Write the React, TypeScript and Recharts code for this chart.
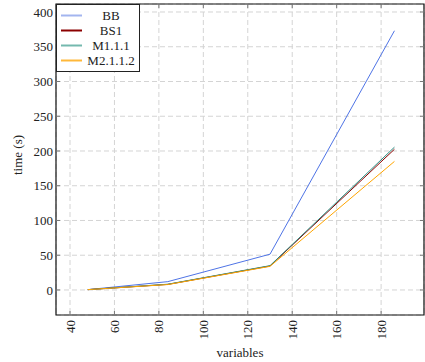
import React from 'react';
import { LineChart, Line, XAxis, YAxis, CartesianGrid, Legend, ReferenceArea, Label } from 'recharts';

const variables = [48, 84, 130, 186];
const bbTimes = [0.5, 12, 51.5, 373];
const bs1Times = [0.5, 8, 34.5, 202.5];
const m111Times = [0.5, 8.3, 35, 205.5];
const m2112Times = [0.5, 7.8, 34, 185];

const xTicks = [40, 60, 80, 100, 120, 140, 160, 180];
const yTicks = [0, 50, 100, 150, 200, 250, 300, 350, 400];

const X_DOMAIN: [number, number] = [33.7, 199.3];
const Y_DOMAIN: [number, number] = [-36, 411.5];

// plot box edges, used only for the little inward tick marks
const PLOT_LEFT = 56;
const PLOT_RIGHT = 424;
const PLOT_TOP = 4;
const PLOT_BOTTOM = 315;

const FONT = '"Liberation Serif", "DejaVu Serif", serif';

const series = [
  { key: 'bb', name: 'BB', color: '#4f74e6', legendColor: '#a3b5ef' },
  { key: 'bs1', name: 'BS1', color: '#8b0000', legendColor: '#8b0000' },
  { key: 'm111', name: 'M1.1.1', color: '#2a8c80', legendColor: '#74b9ae' },
  { key: 'm2112', name: 'M2.1.1.2', color: '#ffa500', legendColor: '#ffb83a' },
];

const data = variables.map((v, i) => ({
  variables: v,
  bb: bbTimes[i],
  bs1: bs1Times[i],
  m111: m111Times[i],
  m2112: m2112Times[i],
}));

const XTick: React.FC<any> = ({ x, payload }) => {
  const ty = PLOT_BOTTOM + 5;
  return (
    <g>
      <line x1={x} x2={x} y1={PLOT_BOTTOM} y2={PLOT_BOTTOM - 4} stroke="#777" />
      <line x1={x} x2={x} y1={PLOT_TOP} y2={PLOT_TOP + 4} stroke="#777" />
      <text
        x={x}
        y={ty}
        dy="0.35em"
        transform={`rotate(-90 ${x} ${ty})`}
        textAnchor="end"
        fontSize={13}
        fontFamily={FONT}
        fill="#222"
      >
        {payload.value}
      </text>
    </g>
  );
};

const YTick: React.FC<any> = ({ y, payload }) => (
  <g>
    <line x1={PLOT_LEFT} x2={PLOT_LEFT + 4} y1={y} y2={y} stroke="#777" />
    <line x1={PLOT_RIGHT - 4} x2={PLOT_RIGHT} y1={y} y2={y} stroke="#777" />
    <text x={PLOT_LEFT - 3} y={y} dy="0.35em" textAnchor="end" fontSize={13} fontFamily={FONT} fill="#222">
      {payload.value}
    </text>
  </g>
);

const LegendBox: React.FC<any> = () => (
  <div
    style={{
      boxSizing: 'border-box',
      width: 84,
      height: 68,
      border: '1px solid #222',
      background: '#fff',
      padding: '3px 0',
      fontFamily: FONT,
      fontSize: 13,
      color: '#222',
    }}
  >
    {series.map(s => (
      <div key={s.key} style={{ display: 'flex', alignItems: 'center', height: 15, lineHeight: '15px' }}>
        <svg width={26} height={15} style={{ flex: 'none' }}>
          <line x1={4} x2={25} y1={7.5} y2={7.5} stroke={s.legendColor} strokeWidth={2} />
        </svg>
        <span style={{ flex: 1, textAlign: 'center' }}>{s.name}</span>
      </div>
    ))}
  </div>
);

export default function App() {
  return (
    <div style={{ position: 'absolute', left: 0, top: 0, background: '#fff' }}>
      <LineChart width={425} height={362} data={data} margin={{ top: 4, right: 1, bottom: 0, left: 0 }}>
        <CartesianGrid stroke="#d4d4d4" strokeDasharray="5 3" />
        <XAxis
          dataKey="variables"
          type="number"
          domain={X_DOMAIN}
          ticks={xTicks}
          allowDataOverflow
          height={47}
          tickLine={false}
          axisLine={false}
          tick={<XTick />}
        >
          <Label
            content={() => (
              <text x={240} y={352} dy="0.35em" textAnchor="middle" fontSize={13} fontFamily={FONT} fill="#222">
                variables
              </text>
            )}
          />
        </XAxis>
        <YAxis
          type="number"
          domain={Y_DOMAIN}
          ticks={yTicks}
          allowDataOverflow
          width={56}
          tickLine={false}
          axisLine={false}
          tick={<YTick />}
        >
          <Label
            content={() => (
              <text
                x={17}
                y={155}
                dy="0.35em"
                transform="rotate(-90 17 155)"
                textAnchor="middle"
                fontSize={13}
                fontFamily={FONT}
                fill="#222"
              >
                time (s)
              </text>
            )}
          />
        </YAxis>
        <ReferenceArea
          x1={X_DOMAIN[0]}
          x2={X_DOMAIN[1]}
          y1={Y_DOMAIN[0]}
          y2={Y_DOMAIN[1]}
          fill="none"
          stroke="#111"
          strokeWidth={1.2}
          ifOverflow="extendDomain"
        />
        {series.map(s => (
          <Line
            key={s.key}
            dataKey={s.key}
            name={s.name}
            type="linear"
            stroke={s.color}
            strokeWidth={1}
            dot={false}
            isAnimationActive={false}
          />
        ))}
        <Legend
          layout="horizontal"
          verticalAlign="middle"
          align="center"
          content={<LegendBox />}
          wrapperStyle={{ top: 4, left: 56, width: 'auto', height: 'auto' }}
        />
      </LineChart>
    </div>
  );
}
